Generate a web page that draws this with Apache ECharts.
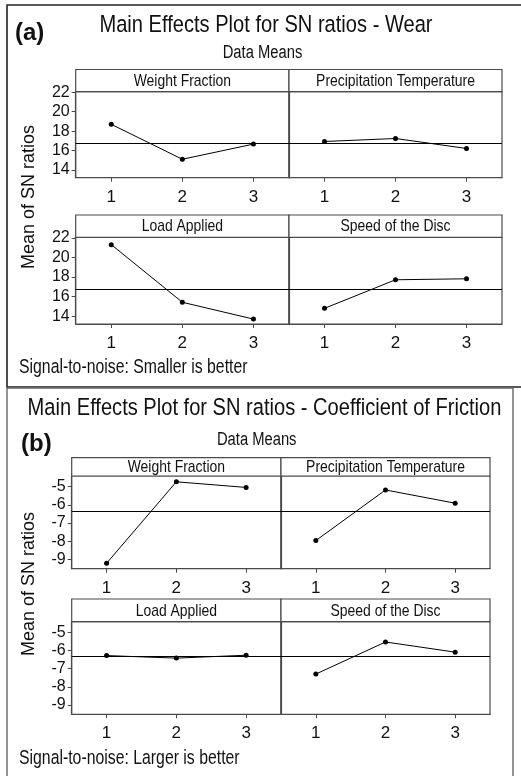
<!DOCTYPE html>
<html><head><meta charset="utf-8">
<script src="https://cdn.jsdelivr.net/npm/echarts@6/dist/echarts.min.js"></script>
<style>html,body{margin:0;padding:0;background:#fff}#c{width:521px;height:776px}</style>
</head><body><div id="c"></div>
<script>
// ---- data ----
const levels = ['1', '2', '3'];
const factorNames = ['Weight Fraction', 'Precipitation Temperature', 'Load Applied', 'Speed of the Disc'];
const wearWeightFraction = [18.70, 15.10, 16.66];
const wearPrecipTemp = [16.93, 17.24, 16.21];
const wearLoadApplied = [21.31, 15.42, 13.70];
const wearSpeedDisc = [14.80, 17.72, 17.82];
const cofWeightFraction = [-9.22, -4.73, -5.04];
const cofPrecipTemp = [-7.97, -5.18, -5.91];
const cofLoadApplied = [-6.28, -6.42, -6.26];
const cofSpeedDisc = [-7.30, -5.53, -6.09];
const wearTicks = [14, 16, 18, 20, 22];
const cofTicks = [-9, -8, -7, -6, -5];

const REG = "'Liberation Sans',Arial,sans-serif";
const SQ = 0.82; // horizontal squeeze of the reference typeface

function mean(arrs) {
  let s = 0, n = 0;
  arrs.forEach(a => a.forEach(v => { s += v; n++; }));
  return s / n;
}

const charts = [
  {
    series: [wearWeightFraction, wearPrecipTemp, wearLoadApplied, wearSpeedDisc],
    ticks: wearTicks, min: 13.2, max: 22.06,
    cols: [[75.7, 213.3], [289, 213]],
    rows: [{ h: 69.5, t: 91.7, b: 177.7 }, { h: 215, t: 237.3, b: 324 }]
  },
  {
    series: [cofWeightFraction, cofPrecipTemp, cofLoadApplied, cofSpeedDisc],
    ticks: cofTicks, min: -9.52, max: -4.41,
    cols: [[71.7, 209.3], [281, 209]],
    rows: [{ h: 457.7, t: 476, b: 568.7 }, { h: 599, t: 621.7, b: 714.3 }]
  }
];

const grid = [], xAxis = [], yAxis = [], series = [];
const graphic = [];
const LINE = '#4a4a4a';

// outer frames
graphic.push({ type: 'rect', shape: { x: 7, y: 5, width: 530, height: 382 }, style: { fill: 'none', stroke: '#222', lineWidth: 1.6 }, z: 0 });
graphic.push({ type: 'rect', shape: { x: 7, y: 388, width: 506, height: 420 }, style: { fill: 'none', stroke: '#666', lineWidth: 1.4 }, z: 0 });

function txt(t, x, y, size, align, opts) {
  opts = opts || {};
  return {
    type: 'text', x: x, y: y, scaleX: opts.noSq ? 1 : SQ, rotation: opts.rot || 0,
    style: { text: t, font: (opts.bold ? 'bold ' : '') + size + 'px ' + REG, fill: '#111', textAlign: align, textVerticalAlign: 'middle' },
    z: 3
  };
}

charts.forEach((c, ci) => {
  const gm = mean(c.series);
  c.series.forEach((vals, k) => {
    const r = c.rows[Math.floor(k / 2)], col = c.cols[k % 2];
    const idx = grid.length;
    grid.push({ left: col[0], top: r.t, width: col[1], height: r.b - r.t, show: true, borderColor: LINE, borderWidth: 1.2, containLabel: false });
    xAxis.push({
      type: 'category', gridIndex: idx, data: levels, boundaryGap: true,
      axisLine: { show: true, lineStyle: { color: LINE, width: 1.2 } },
      axisTick: { show: true, alignWithLabel: true, length: 4, lineStyle: { color: LINE } },
      axisLabel: { show: true, fontSize: 17, fontFamily: REG, color: '#111', margin: 11 },
      splitLine: { show: false }
    });
    const left = (k % 2) === 0;
    yAxis.push({
      type: 'value', gridIndex: idx, min: c.min, max: c.max,
      axisLine: { show: true, lineStyle: { color: LINE, width: 1.2 } },
      axisTick: { show: left, length: 4, customValues: c.ticks, lineStyle: { color: LINE } },
      axisLabel: { show: left, customValues: c.ticks, fontSize: 16, fontFamily: REG, color: '#111', margin: 6 },
      splitLine: { show: false }
    });
    series.push({
      type: 'line', xAxisIndex: idx, yAxisIndex: idx, data: vals,
      symbol: 'circle', symbolSize: 5, showSymbol: true,
      itemStyle: { color: '#000' }, lineStyle: { color: '#000', width: 1 },
      emphasis: { disabled: true }, animation: false,
      markLine: {
        silent: true, symbol: ['none', 'none'], animation: false,
        label: { show: false }, lineStyle: { color: '#000', width: 1, type: 'solid' },
        data: [{ yAxis: gm }]
      }
    });
    // header strip
    graphic.push({ type: 'rect', shape: { x: col[0], y: r.h, width: col[1], height: r.t - r.h }, style: { fill: '#fff', stroke: LINE, lineWidth: 1.2 }, z: 1 });
    graphic.push(txt(factorNames[k], col[0] + col[1] / 2, (r.h + r.t) / 2 + 0.5, 17, 'center'));
  });
});

// titles and notes
graphic.push(txt('Main Effects Plot for SN ratios - Wear', 266, 25, 24.5, 'center'));
graphic.push(txt('Data Means', 262.5, 53, 18, 'center'));
graphic.push(txt('(a)', 15, 33, 24, 'left', { bold: true, noSq: true }));
graphic.push(txt('Signal-to-noise: Smaller is better', 19, 368, 19.3, 'left'));
graphic.push(txt('Main Effects Plot for SN ratios - Coefficient of Friction', 264.5, 408, 24.5, 'center'));
graphic.push(txt('Data Means', 256.7, 440, 18, 'center'));
graphic.push(txt('(b)', 21, 444, 24, 'left', { bold: true, noSq: true }));
graphic.push(txt('Signal-to-noise: Larger is better', 19, 759, 19.3, 'left'));
graphic.push(txt('Mean of SN ratios', 29, 197, 18, 'center', { noSq: true, rot: Math.PI / 2 }));
graphic.push(txt('Mean of SN ratios', 29, 584, 18, 'center', { noSq: true, rot: Math.PI / 2 }));

const chart = echarts.init(document.getElementById('c'), null, { renderer: 'canvas' });
chart.setOption({ animation: false, backgroundColor: '#fff', grid, xAxis, yAxis, series, graphic });
</script></body></html>
